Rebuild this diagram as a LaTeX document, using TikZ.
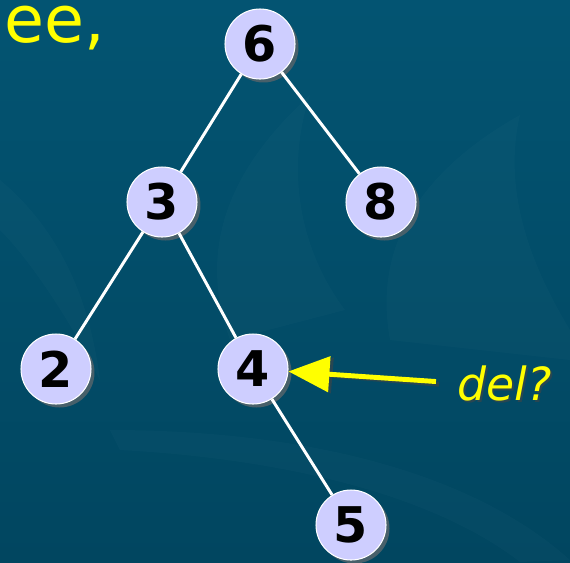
\documentclass[tikz,border=0pt]{standalone}
\usepackage{fontspec}
\setmainfont{DejaVu Sans}
\usetikzlibrary{arrows.meta,shadows}

\definecolor{bgtop}{RGB}{3,84,114}
\definecolor{bgbot}{RGB}{1,70,96}
\definecolor{keyfill}{RGB}{206,206,255}
\definecolor{keyshade}{RGB}{72,96,106}
\definecolor{txtshade}{RGB}{40,70,82}
\definecolor{hiyellow}{RGB}{255,255,0}

\tikzset{
  key/.style={circle,fill=keyfill,draw=white,line width=0.6pt,
    minimum size=1.4cm,inner sep=0pt,
    font=\fontsize{28}{28}\selectfont\bfseries,
    drop shadow={shadow xshift=0.07cm,shadow yshift=-0.07cm,fill=keyshade,opacity=1}},
  link/.style={white,line width=1.7pt},
  pointer/.style={line width=2.8pt,-{Triangle[length=0.82cm,width=0.7cm]}}
}

\begin{document}
\begin{tikzpicture}[x=0.02cm,y=-0.02cm]
%\draw[step=10,gray,very thin] (0,0) grid (570,562); %background grid

%background%%%%%%%%%%%%%%%%%%%%%%%%%%%%%%%%%%%%%%%%%%%%%%%%%%%%%%%%
\shade[top color=bgtop,bottom color=bgbot] (0,0) rectangle (570,562);
\useasboundingbox (0,0) rectangle (570,562);

% faint flames
\begin{scope}[fill=white,fill opacity=0.02]
\fill (230,340) .. controls (190,230) and (250,150) .. (310,95)
  .. controls (285,170) and (300,250) .. (345,310) -- cycle;
\fill (390,340) .. controls (370,230) and (440,160) .. (520,115)
  .. controls (500,200) and (540,280) .. (570,330) -- (570,360) -- cycle;
\fill (110,430) .. controls (300,430) and (470,470) .. (570,560)
  -- (520,562) .. controls (440,500) and (300,460) .. (120,450) -- cycle;
\fill (0,180) .. controls (60,230) and (90,300) .. (100,380)
  .. controls (70,320) and (30,260) .. (0,230) -- cycle;
\end{scope}

%tree%%%%%%%%%%%%%%%%%%%%%%%%%%%%%%%%%%%%%%%%%%%%%%%%%%%%%%%%%%%%%%
\node[key] (n6) at (260,44) {6};
\node[key] (n3) at (162,202) {3};
\node[key] (n8) at (381,202) {8};
\node[key] (n2) at (56,369) {2};
\node[key] (n4) at (253,369) {4};
\node[key] (n5) at (351,525) {5};

\draw[link] (n6) -- (n3);
\draw[link] (n6) -- (n8);
\draw[link] (n3) -- (n2);
\draw[link] (n3) -- (n4);
\draw[link] (n4) -- (n5);

%labels%%%%%%%%%%%%%%%%%%%%%%%%%%%%%%%%%%%%%%%%%%%%%%%%%%%%%%%%%%%%
\node[anchor=base west,inner sep=0pt,hiyellow,font=\fontsize{37}{37}\selectfont] (title) at (4,42) {ee,};

\node[anchor=base west,inner sep=0pt,txtshade,font=\fontsize{26}{26}\selectfont\itshape] at (459,402) {del?};
\node[anchor=base west,inner sep=0pt,hiyellow,font=\fontsize{26}{26}\selectfont\itshape] (del) at (457,400) {del?};

% arrow, shadow first
\draw[pointer,txtshade,shorten <=12pt] ([shift={(3,3)}]del.west) -- ([shift={(3,3)}]n4.east);
\draw[pointer,hiyellow,shorten <=12pt] (del.west) -- (n4);

\end{tikzpicture}
\end{document}
